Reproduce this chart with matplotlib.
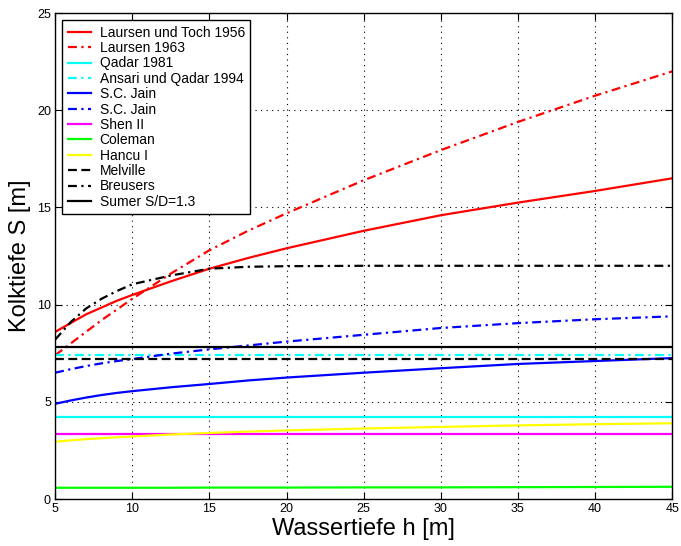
import numpy as np
import matplotlib
matplotlib.use('Agg')
import matplotlib.pyplot as plt

plt.rcParams['font.family'] = ['Liberation Sans', 'DejaVu Sans']

# Wassertiefe h [m]
h = [5, 6, 7, 8, 9, 10, 12.5, 15, 17.5, 20, 25, 30, 35, 40, 45]
h_const = [5, 45]

# Kolktiefe S [m] der einzelnen Ansaetze
laursen_toch = [8.6, 9.05, 9.5, 9.85, 10.2, 10.5, 11.2, 11.85, 12.4, 12.9, 13.8, 14.6, 15.25, 15.85, 16.5]
laursen_1963 = [7.4, 8.0, 8.6, 9.2, 9.75, 10.3, 11.6, 12.8, 13.8, 14.7, 16.4, 17.95, 19.4, 20.75, 22.0]
qadar = [4.2, 4.2]
ansari_qadar = [7.4, 7.4]
jain_1 = [4.9, 5.07, 5.22, 5.35, 5.46, 5.55, 5.75, 5.92, 6.1, 6.25, 6.5, 6.73, 6.95, 7.1, 7.25]
jain_2 = [6.5, 6.68, 6.84, 6.98, 7.1, 7.2, 7.48, 7.7, 7.9, 8.1, 8.45, 8.8, 9.05, 9.25, 9.4]
shen = [3.35, 3.35]
coleman = [0.58, 0.58, 0.58, 0.58, 0.58, 0.58, 0.58, 0.59, 0.59, 0.59, 0.6, 0.6, 0.61, 0.62, 0.63]
hancu = [2.95, 3.02, 3.08, 3.13, 3.18, 3.22, 3.32, 3.4, 3.47, 3.53, 3.63, 3.71, 3.79, 3.85, 3.9]
melville = [7.2, 7.2]
breusers = [8.2, 9.1, 9.8, 10.3, 10.7, 11.05, 11.5, 11.85, 11.95, 11.98, 12.0, 12.0, 12.0, 12.0, 12.0]
sumer = [7.8, 7.8]

dashdot = (0, (4, 2, 1, 2))
dashed = (0, (4, 2))

fig = plt.figure(figsize=(6.81, 5.46), dpi=100)
ax = fig.add_subplot(111)
fig.subplots_adjust(left=0.081, right=0.987, bottom=0.086, top=0.976)

lw = 1.6
ax.plot(h, laursen_toch, color='#ff0000', lw=lw, label='Laursen und Toch 1956')
ax.plot(h, laursen_1963, color='#ff0000', lw=lw, linestyle=dashdot, label='Laursen 1963')
ax.plot(h_const, qadar, color='#00ffff', lw=lw, label='Qadar 1981')
ax.plot(h_const, ansari_qadar, color='#00ffff', lw=lw, linestyle=dashdot, label='Ansari und Qadar 1994')
ax.plot(h, jain_1, color='#0000ff', lw=lw, label='S.C. Jain')
ax.plot(h, jain_2, color='#0000ff', lw=lw, linestyle=dashdot, label='S.C. Jain')
ax.plot(h_const, shen, color='#ff00ff', lw=lw, label='Shen II')
ax.plot(h, coleman, color='#00ff00', lw=lw, label='Coleman')
ax.plot(h, hancu, color='#ffff00', lw=lw, label='Hancu I')
ax.plot(h_const, melville, color='black', lw=lw, linestyle=dashed, label='Melville')
ax.plot(h, breusers, color='black', lw=lw, linestyle=dashdot, label='Breusers')
ax.plot(h_const, sumer, color='black', lw=lw, label='Sumer S/D=1.3')

ax.set_xlim(5, 45)
ax.set_ylim(0, 25)
ax.set_xticks(np.arange(5, 46, 5))
ax.set_yticks(np.arange(0, 26, 5))
ax.tick_params(direction='in', length=5, labelsize=9, top=True, right=True, pad=3)
ax.grid(True, color='black', linestyle=(0, (1, 4)), linewidth=0.8)
for s in ax.spines.values():
    s.set_color('black')
    s.set_linewidth(1.0)

ax.set_xlabel('Wassertiefe h [m]', fontsize=17, labelpad=2)
ax.set_ylabel('Kolktiefe S [m]', fontsize=17, labelpad=4)

leg = ax.legend(loc='upper left', fontsize=10, fancybox=False, framealpha=1,
                edgecolor='black', labelspacing=0.1, handlelength=1.7,
                handletextpad=0.6, borderpad=0.4, borderaxespad=0.5)
leg.get_frame().set_linewidth(1.0)

fig.savefig('out.png', dpi=100)
